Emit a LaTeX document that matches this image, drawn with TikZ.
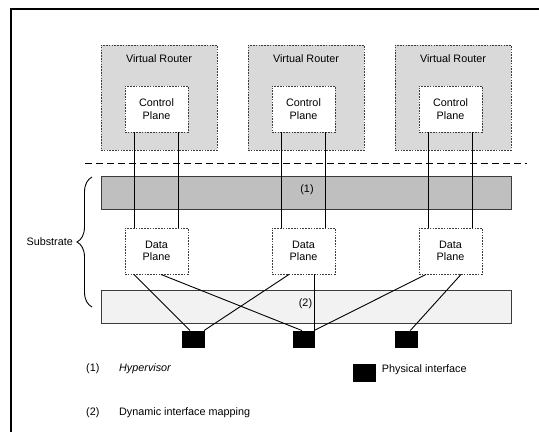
\documentclass[tikz,border=0pt]{standalone}
\usepackage{fontspec}
\setmainfont{Liberation Sans}
\usetikzlibrary{decorations.pathreplacing}
\definecolor{vrfill}{HTML}{D9D9D9}
\definecolor{hvfill}{HTML}{BFBFBF}
\definecolor{mapfill}{HTML}{F2F2F2}
\definecolor{edge}{HTML}{3C3C3C}
\tikzset{
  txt/.style={font=\fontsize{10.8}{12.5}\selectfont, inner sep=0pt, align=center},
  dotbox/.style={draw=edge, line width=0.9pt, dash pattern=on 1.6pt off 1.2pt, inner sep=0pt},
  vrbox/.style={dotbox, fill=vrfill, minimum width=116pt, minimum height=105pt},
  plane/.style={dotbox, fill=white, minimum width=63pt, minimum height=46pt, txt},
  bar/.style={draw=edge, line width=1pt, minimum width=410pt, minimum height=33pt, inner sep=0pt},
  port/.style={fill=black, draw=none, minimum width=22.5pt, minimum height=17.5pt, inner sep=0pt},
  wire/.style={line width=0.9pt, black},
}
\begin{document}
\begin{tikzpicture}[x=1pt, y=-1pt]
\useasboundingbox (0,0) rectangle (539,432);

% outer frame (only the top and left sides fall inside the page)
\coordinate (fTL) at (11,9);
\coordinate (fTR) at (539,9);
\coordinate (fBL) at (11,432);
\draw[line width=1.4pt] (fTR) -- (fTL) -- (fBL);

% virtual routers with their control planes
\foreach \i/\x in {1/159, 2/306, 3/453} {
  \node[vrbox] (vr\i) at (\x,97.5) {};
  \node[txt] (vrl\i) at (\x,59) {Virtual Router};
  \node[plane] (cp\i) at (\x-2.5,109) {Control\\Plane};
}

% separation between routers and substrate
\coordinate (sepL) at (85,163);
\coordinate (sepR) at (527,163);
\draw[line width=0.9pt, dash pattern=on 7pt off 4pt] (sepL) -- (sepR);

% substrate layers
\node[bar, fill=hvfill] (hyp) at (306,192.5) {};
\node[txt] (hypl) at (307,190) {(1)};
\node[bar, fill=mapfill] (map) at (306,307.2) {};
\node[txt] (mapl) at (305.5,304) {(2)};

% data planes
\foreach \i/\x in {1/156.5, 2/303.5, 3/450.5} {
  \node[plane] (dp\i) at (\x,251) {Data\\Plane};
}

% physical interfaces
\node[port] (pi1) at (193.5,339.5) {};
\node[port] (pi2) at (304,339.5) {};
\node[port] (pi3) at (406.3,339.5) {};

% control plane to data plane links
\foreach \i in {1,2,3} {
  \draw[wire] ([xshift=-22pt]cp\i.south) -- ([xshift=-22pt]dp\i.north);
  \draw[wire] ([xshift=22pt]cp\i.south) -- ([xshift=22pt]dp\i.north);
}

% data plane to physical interface mapping
\draw[wire] ([xshift=-22.5pt]dp1.south) -- ([xshift=-3.5pt]pi1.north);
\draw[wire] ([xshift=4.5pt]dp1.south) -- ([xshift=-2pt]pi2.north);
\draw[wire] ([xshift=-14.5pt]dp2.south) -- ([xshift=10.5pt]pi1.north);
\draw[wire] ([xshift=10.5pt]dp2.south) -- ([xshift=10pt]pi2.north);
\draw[wire] ([xshift=-24.5pt]dp3.south) -- ([xshift=10pt]pi2.north);
\draw[wire] ([xshift=10.5pt]dp3.south) -- ([xshift=4pt]pi3.north);

% substrate brace
\coordinate (brB) at (92,307);
\coordinate (brT) at (92,177);
\draw[line width=0.9pt, decorate, decoration={brace, amplitude=15pt}] (brB) -- (brT)
  coordinate[midway, xshift=-16pt] (brTip);
\node[txt, anchor=east] (sub) at ([xshift=-3pt]brTip) {Substrate};

% legend
\node[txt, anchor=west] (lg1) at (86,369) {(1)};
\node[txt, anchor=west] (lg1t) at (119,369) {\itshape Hypervisor};
\node[txt, anchor=west] (lg2) at (86,413) {(2)};
\node[txt, anchor=west] (lg2t) at (119,413) {Dynamic interface mapping};
\node[port, minimum width=22.7pt, minimum height=17.7pt] (lgp) at (364.3,373) {};
\node[txt, anchor=west] (lgpt) at (381.7,369.5) {Physical interface};
\end{tikzpicture}
\end{document}
